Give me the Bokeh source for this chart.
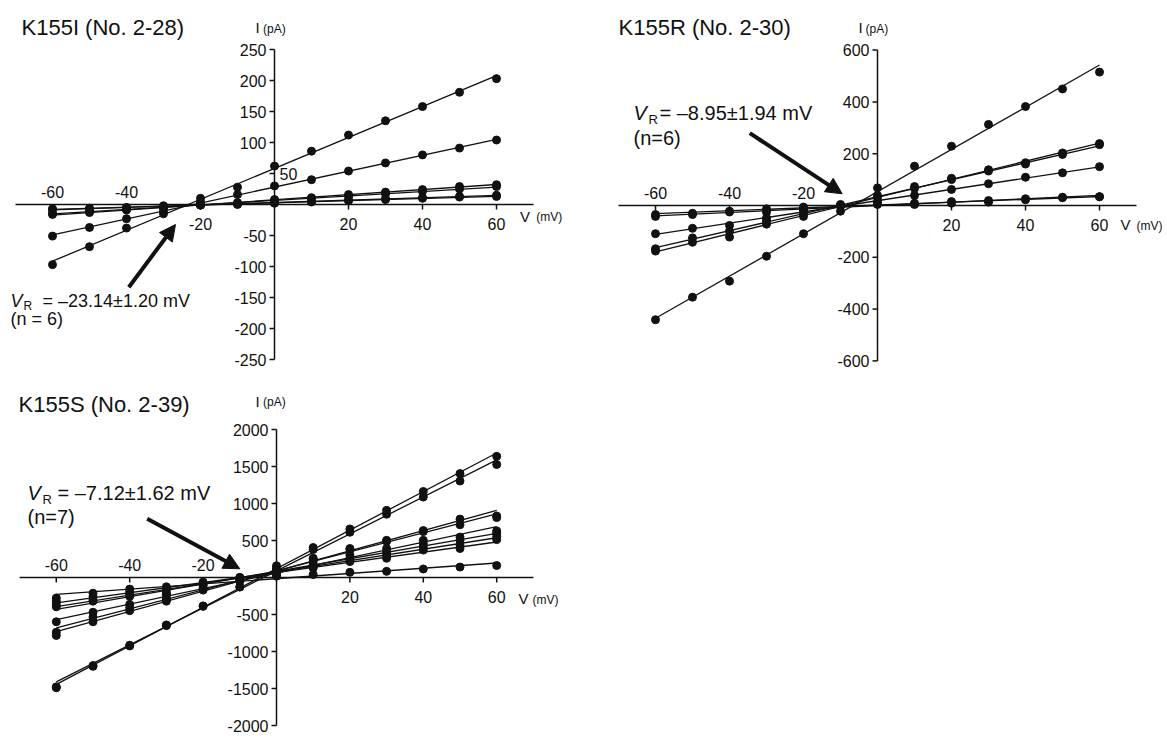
import numpy as np
from bokeh.plotting import figure
from bokeh.layouts import row, column
from bokeh.models import Label, Arrow, NormalHead, Range1d, Grid
from bokeh.core.properties import value
from bokeh.embed import file_html
from bokeh.resources import INLINE

FONT = "Liberation Sans"
INK = "#111111"

# ---------------- data ----------------
V = [-60, -50, -40, -30, -20, -10, 0, 10, 20, 30, 40, 50, 60]   # mV

# K155I (No. 2-28), current in pA
k155i_c1 = [-97, -68, -38, -15, 10, 28, 62, 86, 112, 135, 158, 181, 203]
k155i_c2 = [-51, -37, -23, -10, 4, 16, 30, 40, 54, 67, 80, 91, 104]
k155i_c3 = [-16, -13, -9, -5, -1, 3, 8, 11, 16, 20, 24, 29, 32]
k155i_c4 = [-14, -11, -8, -4, -1, 2, 6, 10, 13, 17, 21, 25, 29]
k155i_c5 = [-8, -7, -5, -3, -1, 1, 3, 5, 7, 9, 11, 13, 15]
k155i_c6 = [-7, -6, -5, -2, 0, 0, 2, 4, 6, 8, 10, 12, 13]

# K155R (No. 2-30)
k155r_c1 = [-441, -354, -292, -196, -109, -22, 68, 152, 229, 313, 382, 450, 515]
k155r_c2 = [-176, -142, -122, -72, -42, -3, 39, 73, 105, 138, 165, 203, 239]
k155r_c3 = [-167, -125, -99, -59, -30, 0, 30, 66, 100, 133, 160, 197, 235]
k155r_c4 = [-109, -88, -77, -48, -17, 0, 13, 39, 62, 84, 109, 126, 150]
k155r_c5 = [-42, -35, -25, -26, -16, 0, 4, 9, 15, 19, 26, 32, 34]
k155r_c6 = [-35, -30, -22, -13, -6, 4, 13, 4, 9, 13, 22, 30, 34]

# K155S (No. 2-39)
k155s_c1 = [-1490, -1200, -925, -650, -390, -130, 158, 405, 656, 907, 1162, 1404, 1637]
k155s_c2 = [-1478, -1190, -915, -641, -384, -126, 130, 379, 612, 855, 1087, 1304, 1527]
k155s_c3 = [-783, -598, -448, -320, -170, -50, 100, 260, 392, 502, 634, 789, 831]
k155s_c4 = [-740, -534, -405, -300, -160, -41, 90, 250, 380, 490, 620, 713, 810]
k155s_c5 = [-598, -470, -363, -277, -139, -41, 70, 215, 304, 392, 502, 546, 630]
k155s_c6 = [-396, -320, -255, -230, -106, -20, 60, 172, 260, 348, 458, 502, 600]
k155s_c7 = [-363, -298, -225, -212, -100, -10, 45, 150, 235, 304, 414, 436, 556]
k155s_c8 = [-320, -255, -190, -170, -80, 0, 30, 128, 215, 260, 370, 392, 512]
k155s_c9 = [-277, -212, -157, -126, -62, 0, 17, 40, 70, 83, 115, 141, 162]

x_ticks = [-60, -40, -20, 20, 40, 60]
k155i_yticks = [250, 200, 150, 100, 50, -50, -100, -150, -200, -250]
k155r_yticks = [600, 400, 200, -200, -400, -600]
k155s_yticks = [2000, 1500, 1000, 500, -500, -1000, -1500, -2000]

titles = ["K155I (No. 2-28)", "K155R (No. 2-30)", "K155S (No. 2-39)"]
vr_texts = ["= \u201323.14\u00b11.20 mV", "= \u20138.95\u00b11.94 mV", "= \u20137.12\u00b11.62 mV"]
n_texts = ["(n = 6)", "(n=6)", "(n=7)"]


# ---------------- layout helpers ----------------
def geom(left, top, w, h, x0, sx, y0, sy):
    return dict(left=left, top=top, w=w, h=h, x0=x0, sx=sx, y0=y0, sy=sy)


def to_data(g, px, py):
    return (px - g["x0"]) / g["sx"], (g["y0"] - py) / g["sy"]


def put(p, g, px, py, text, size, style="normal", align="left"):
    x, y = to_data(g, px, py)
    p.add_layout(Label(x=x, y=y, text=text, text_font=FONT, text_font_size=size,
                       text_font_style=style, text_color=INK, text_align=align,
                       text_baseline="middle"))


def arrow(p, g, a, b):
    x0, y0 = to_data(g, *a)
    x1, y1 = to_data(g, *b)
    p.add_layout(Arrow(x_start=x0, y_start=y0, x_end=x1, y_end=y1, line_width=4,
                       line_color=INK,
                       end=NormalHead(size=16, fill_color=INK, line_color=INK, line_width=1)))


def panel(g, series, yticks, x_above, x_below, y_right=()):
    xr = Range1d((g["left"] - g["x0"]) / g["sx"], (g["left"] + g["w"] - g["x0"]) / g["sx"])
    yr = Range1d((g["y0"] - g["top"] - g["h"]) / g["sy"], (g["y0"] - g["top"]) / g["sy"])
    p = figure(width=g["w"], height=g["h"], x_range=xr, y_range=yr,
               output_backend="svg", toolbar_location=None,
               x_axis_location=None, y_axis_location=None, min_border=0,
               outline_line_color=None)
    for gr in p.select(type=Grid):
        gr.visible = False
    tx = 5 / g["sx"]
    ty = 5 / g["sy"]
    # axis lines
    p.segment(x0=[-70, 0], y0=[0, min(yticks)], x1=[70, 0], y1=[0, max(yticks)],
              line_color=INK, line_width=1.5)
    # y ticks
    p.segment(x0=[-tx] * len(yticks), y0=yticks, x1=[0] * len(yticks), y1=yticks,
              line_color=INK, line_width=1.5)
    # x ticks
    p.segment(x0=x_ticks, y0=[0] * len(x_ticks), x1=x_ticks, y1=[-ty] * len(x_ticks),
              line_color=INK, line_width=1.5)
    left = [t for t in yticks if t not in y_right]
    common = dict(text_font=value(FONT), text_font_size="16px", text_color=INK,
                  text_baseline="middle")
    p.text(x=[0] * len(left), y=left, text=[str(t) for t in left], x_offset=-8,
           text_align="right", **common)
    if y_right:
        p.text(x=[0] * len(y_right), y=list(y_right), text=[str(t) for t in y_right],
               x_offset=5, text_align="left", **common)
    p.text(x=x_above, y=[0] * len(x_above), text=[str(t) for t in x_above],
           y_offset=-13, text_align="center", **common)
    p.text(x=x_below, y=[0] * len(x_below), text=[str(t) for t in x_below],
           y_offset=19, text_align="center", **common)
    # fitted lines then points
    for s in series:
        k, b = np.polyfit(V, s, 1)
        p.line(x=[V[0], V[-1]], y=[k * V[0] + b, k * V[-1] + b], line_color=INK, line_width=1.3)
    for s in series:
        p.scatter(x=V, y=s, size=8, fill_color=INK, line_color=INK)
    return p


# panel geometry (page pixels)
G1 = geom(0, 0, 588, 370, 274, 3.7, 204, 0.62)
G2 = geom(588, 0, 578, 370, 877, 3.7, 205, 0.259)
G3 = geom(0, 370, 588, 367, 276, 3.67, 577, 0.074)

p1 = panel(G1, [k155i_c1, k155i_c2, k155i_c3, k155i_c4, k155i_c5, k155i_c6],
           k155i_yticks, [-60, -40], [-20, 20, 40, 60], y_right=(50,))
p2 = panel(G2, [k155r_c1, k155r_c2, k155r_c3, k155r_c4, k155r_c5, k155r_c6],
           k155r_yticks, [-60, -40, -20], [20, 40, 60])
p3 = panel(G3, [k155s_c1, k155s_c2, k155s_c3, k155s_c4, k155s_c5, k155s_c6,
                k155s_c7, k155s_c8, k155s_c9],
           k155s_yticks, [-60, -40, -20], [20, 40, 60])

# titles
put(p1, G1, 21, 27, titles[0], "22px")
put(p2, G2, 618, 27, titles[1], "22px")
put(p3, G3, 18, 403.5, titles[2], "22px")

# axis unit labels
put(p1, G1, 255, 27, "I", "15px")
put(p1, G1, 262.5, 28, "(pA)", "12px")
put(p2, G2, 858, 27, "I", "15px")
put(p2, G2, 865, 28, "(pA)", "12px")
put(p3, G3, 255, 400.7, "I", "15px")
put(p3, G3, 262.5, 401.7, "(pA)", "12px")
put(p1, G1, 519.6, 215.5, "V", "15px")
put(p1, G1, 535.7, 216.5, "(mV)", "12px")
put(p2, G2, 1120, 224, "V", "15px")
put(p2, G2, 1136, 225, "(mV)", "12px")
put(p3, G3, 518, 598, "V", "15px")
put(p3, G3, 532, 599, "(mV)", "12px")

# reversal potential annotations
put(p1, G1, 10, 300, "V", "18px", style="italic")
put(p1, G1, 23, 305.5, "R", "12px")
put(p1, G1, 42, 300, vr_texts[0], "18px")
put(p1, G1, 10, 318, n_texts[0], "18px")
arrow(p1, G1, (128.3, 286.7), (175, 224))

put(p2, G2, 633, 112, "V", "20px", style="italic")
put(p2, G2, 648, 118.5, "R", "13px")
put(p2, G2, 659, 112, vr_texts[1], "20px")
put(p2, G2, 633, 137, n_texts[1], "20px")
arrow(p2, G2, (749.3, 132.7), (841.7, 193.3))

put(p3, G3, 27, 492.5, "V", "20px", style="italic")
put(p3, G3, 42, 499, "R", "13px")
put(p3, G3, 57, 492.5, vr_texts[2], "20px")
put(p3, G3, 27, 516, n_texts[2], "20px")
arrow(p3, G3, (146.7, 518.3), (239.3, 568.3))

layout = row(column(p1, p3), p2)
open("out.html", "w").write(file_html(layout, INLINE))
